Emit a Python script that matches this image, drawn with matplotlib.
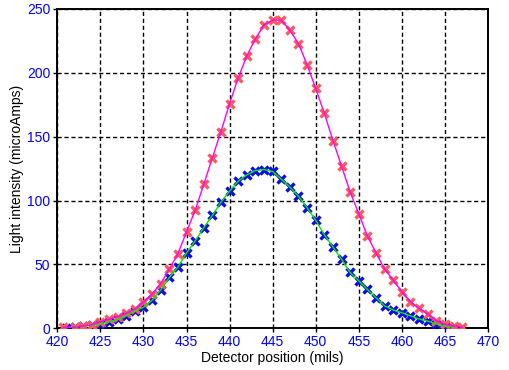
import matplotlib
matplotlib.use('Agg')
import matplotlib.pyplot as plt
import numpy as np

plt.rcParams['font.family'] = ['Liberation Sans', 'DejaVu Sans']

# red / magenta series
pos_a = [420.7, 422, 423, 424, 425, 426, 427, 428, 429, 430, 431, 432, 433, 434, 435,
         436, 437, 438, 439, 440, 441, 442, 443, 444, 445, 446, 447, 448, 449, 450,
         451, 452, 453, 454, 455, 456, 457, 458, 459, 460, 461, 462, 463, 464, 465,
         466, 467]
amps_a = [0.8, 0.8, 1.8, 2.8, 5.2, 7.0, 9.0, 11.7, 15.0, 20.5, 26.8, 35.0, 46.3, 58.5, 75.4,
          92.3, 112.6, 133.5, 154.0, 176.0, 196.0, 213.3, 226.8, 237.5, 241.4, 241.2, 233.4, 222.9, 206.3, 187.8,
          168.3, 147.0, 127.0, 106.6, 89.7, 72.3, 59.0, 46.3, 37.7, 28.6, 20.8, 15.6, 11.2, 6.0, 3.1,
          1.8, 0.8]

# blue / green series
pos_b = [421, 422, 423, 424, 425, 426, 427, 428, 429, 430, 431, 432, 433, 434, 435,
         436, 437, 438, 439, 440, 441, 442, 443, 444, 445, 446, 447, 448, 449, 450,
         451, 452, 453, 454, 455, 456, 457, 458, 459, 460, 461, 462, 463, 464, 465, 466]
amps_b = [0.5, 1.0, 1.5, 2.5, 3.5, 5.0, 7.0, 9.8, 13.7, 16.4, 22.0, 30.0, 39.8, 48.0, 59.0,
          68.4, 78.8, 88.4, 98.8, 107.4, 115.2, 120.2, 123.5, 124.3, 122.8, 116.8, 110.5, 103.3, 94.4, 84.5,
          73.3, 63.7, 54.0, 43.7, 37.2, 30.4, 23.9, 17.6, 14.3, 12.2, 9.8, 7.3, 5.7, 3.4, 1.8, 1.0]

fig = plt.figure(figsize=(5.09, 3.70), dpi=100)
ax = fig.add_axes([0.1126, 0.1127, 0.8461, 0.8630])

ax.plot(pos_b, amps_b, ls='none', marker='x', ms=6, mew=2.4, color='#0a0af0', zorder=3)
ax.plot(pos_a, amps_a, ls='none', marker='x', ms=6, mew=2.4, color='#ff5858', zorder=4)
ax.plot(pos_b, amps_b, color='#00ee00', lw=1.0, zorder=5)
ax.plot(pos_a, amps_a, color='#ff00ff', lw=1.0, zorder=6)

ax.set_xlim(420, 470)
ax.set_ylim(0, 250)
ax.set_xticks(np.arange(420, 471, 5))
ax.set_yticks(np.arange(0, 251, 50))
ax.grid(True, color='black', ls=(0, (3, 2)), lw=1.0)
ax.set_axisbelow(True)
ax.tick_params(colors='black', labelcolor='#0000ff', labelsize=10, length=3, width=1, pad=2)
for s in ax.spines.values():
    s.set_linewidth(1.4)

ax.set_xlabel('Detector position (mils)', fontsize=10, labelpad=1)
ax.set_ylabel('Light intensity (microAmps)', fontsize=10, labelpad=2)

fig.savefig('out.png', dpi=100)
